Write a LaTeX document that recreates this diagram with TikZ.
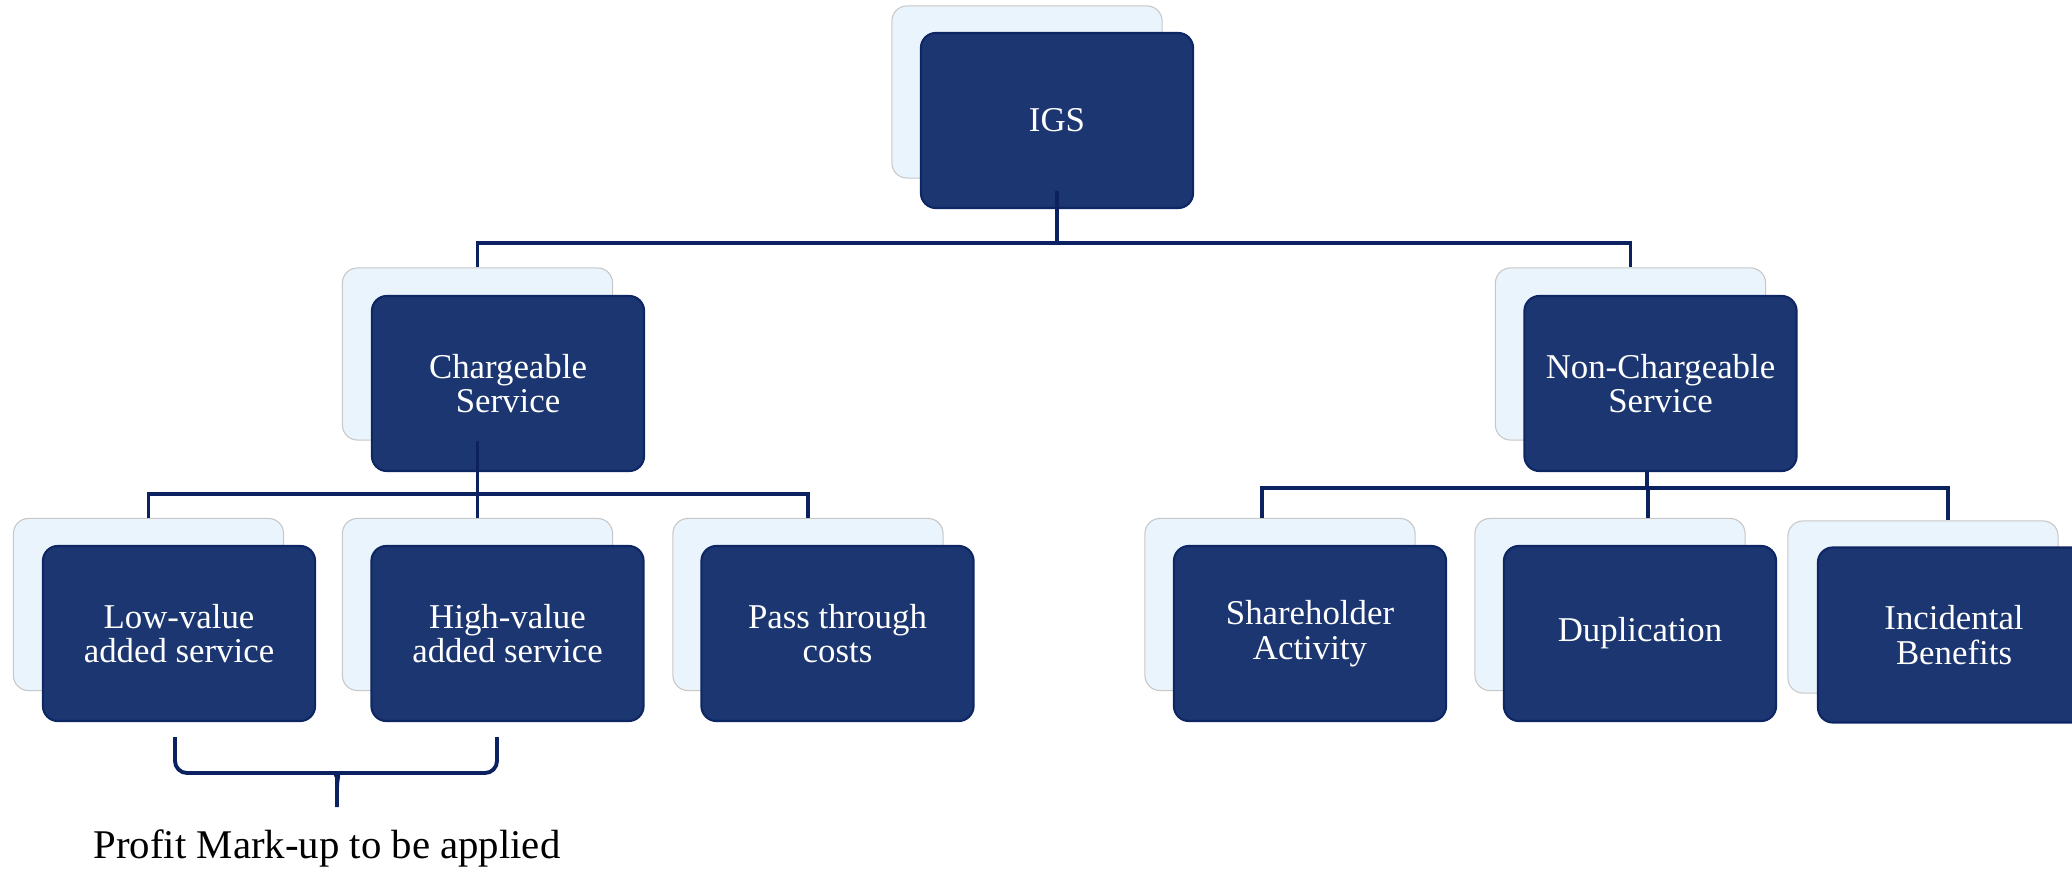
\documentclass[tikz,border=0pt]{standalone}
\usepackage{fontspec}
\setmainfont{Liberation Serif}
\definecolor{boxnavy}{HTML}{1B3670}
\definecolor{boxedge}{HTML}{0E2664}
\definecolor{linknavy}{HTML}{0B2160}
\definecolor{shadowblue}{HTML}{EAF4FC}
\begin{document}
\begin{tikzpicture}[x=0.01cm, y=-0.01cm,
    card/.style={draw=boxedge, fill=boxnavy, line width=0.6pt, rounded corners=0.15cm, minimum width=2.72cm, minimum height=1.75cm, text=white, align=center, font=\fontsize{9.9}{9.8}\selectfont},
    backcard/.style={draw=black!22, fill=shadowblue, line width=0.3pt, rounded corners=0.15cm, minimum width=2.70cm, minimum height=1.72cm},
    link/.style={draw=linknavy, line width=1pt},
    brace/.style={draw=linknavy, line width=1.1pt, rounded corners=0.12cm}]
\useasboundingbox (0,0) rectangle (2072,870);

\node[backcard] (igsbk) at (1027,92) {};
\node[card] (igs) at (1057,120.5) {IGS};

\node[backcard] (chgbk) at (477.5,354) {};
\node[card] (chg) at (508,383.5) {Chargeable\\Service};
\node[backcard] (ncbk) at (1630.5,354) {};
\node[card] (nc) at (1660.5,383.5) {Non-Chargeable\\Service};

\node[backcard] (lowbk) at (148.5,604.5) {};
\node[card] (low) at (179,633.5) {Low-value\\added service};
\node[backcard] (highbk) at (477.5,604.5) {};
\node[card] (high) at (507.5,633.5) {High-value\\added service};
\node[backcard] (passbk) at (808,604.5) {};
\node[card] (pass) at (837.5,633.5) {Pass through\\costs};

\node[backcard] (shbk) at (1280,604.5) {};
\node[card] (sh) at (1310,633.5) {Shareholder\\Activity};
\node[backcard] (dupbk) at (1610,604.5) {};
\node[card] (dup) at (1640,633.5) {Duplication};
\node[backcard] (incbk) at (1923,607) {};
\node[card] (inc) at (1954,635) {Incidental\\Benefits};

\coordinate (topbus) at (1054,243);
\coordinate (leftbus) at (478,494);
\coordinate (rightbus) at (1647,488);
\coordinate (shtop) at ([xshift=-0.18cm]shbk.north);
\coordinate (duptop) at ([xshift=0.38cm]dupbk.north);
\coordinate (inctop) at ([xshift=0.25cm]incbk.north);

\draw[link] ([yshift=0.18cm]igs.south) -- (igs.south |- topbus);
\draw[link] (chgbk.north) -- (chgbk.north |- topbus) -- (ncbk.north |- topbus) -- (ncbk.north);

\draw[link] (chgbk.south) -- (chgbk.south |- leftbus);
\draw[link] (lowbk.north) -- (lowbk.north |- leftbus) -- (passbk.north |- leftbus) -- (passbk.north);
\draw[link] (highbk.north) -- (highbk.north |- leftbus);

\draw[link] (rightbus |- nc.south) -- (rightbus);
\draw[link] (shtop) -- (shtop |- rightbus) -- (inctop |- rightbus) -- (inctop);
\draw[link] (duptop) -- (duptop |- rightbus);

\draw[brace] (175,737) -- (175,773) -- (325,773) .. controls (334,773) and (337,778) .. (337,788) -- (337,807);
\draw[brace] (497,737) -- (497,773) -- (349,773) .. controls (340,773) and (337,778) .. (337,788);
\node[font=\fontsize{11.6}{13}\selectfont, anchor=base] (markup) at (327,858) {Profit Mark-up to be applied};
\end{tikzpicture}
\end{document}
